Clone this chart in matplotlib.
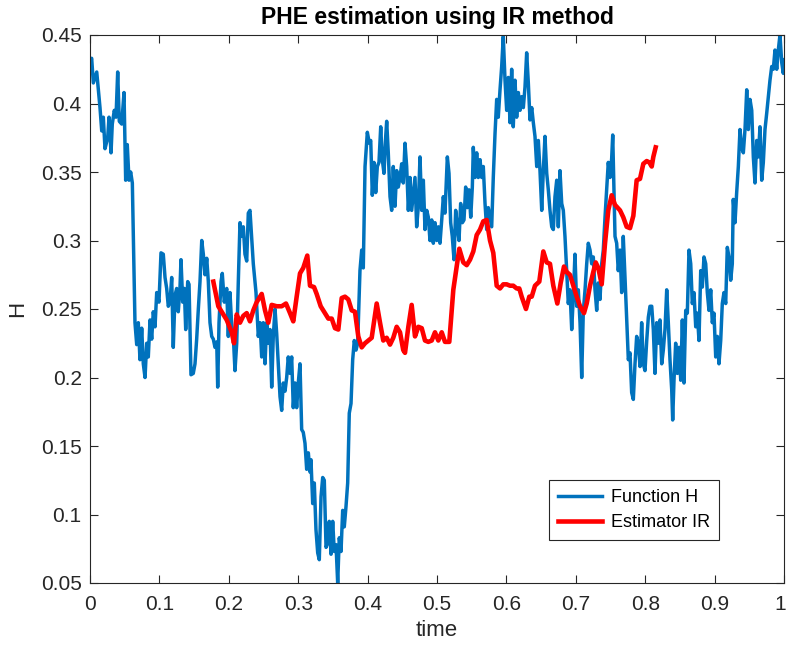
import matplotlib
matplotlib.use("Agg")
import matplotlib.pyplot as plt
import matplotlib.transforms as mtransforms

# Function H (blue)
time_h = [
    0.0, 0.0024, 0.0048, 0.0097, 0.0120, 0.0144, 0.0169, 0.0192, 0.0216, 0.0255,
    0.0274, 0.0303, 0.0321, 0.0350, 0.0375, 0.0399, 0.0422, 0.0457, 0.0490, 0.0514,
    0.0537, 0.0562, 0.0586, 0.0610, 0.0648, 0.0673, 0.0696, 0.0720, 0.0745, 0.0768,
    0.0793, 0.0817, 0.0840, 0.0865, 0.0889, 0.0912, 0.0937, 0.0961, 0.0994, 0.1023,
    0.1056, 0.1081, 0.1105, 0.1128, 0.1153, 0.1177, 0.1200, 0.1225, 0.1249, 0.1272,
    0.1297, 0.1311, 0.1336, 0.1359, 0.1379, 0.1408, 0.1427, 0.1455, 0.1488, 0.1513,
    0.1537, 0.1561, 0.1585, 0.1610, 0.1633, 0.1657, 0.1682, 0.1705, 0.1729, 0.1754,
    0.1777, 0.1801, 0.1826, 0.1840, 0.1859, 0.1888, 0.1906, 0.1935, 0.1970, 0.1993,
    0.2017, 0.2042, 0.2065, 0.2089, 0.2114, 0.2137, 0.2161, 0.2186, 0.2209, 0.2233,
    0.2258, 0.2281, 0.2305, 0.2353, 0.2392, 0.2425, 0.2450, 0.2474, 0.2497, 0.2522,
    0.2546, 0.2569, 0.2594, 0.2618, 0.2641, 0.2666, 0.2690, 0.2713, 0.2738, 0.2762,
    0.2785, 0.2810, 0.2834, 0.2857, 0.2882, 0.2906, 0.2929, 0.2954, 0.2978, 0.3001,
    0.3026, 0.3050, 0.3073, 0.3098, 0.3122, 0.3146, 0.3170, 0.3184, 0.3209, 0.3232,
    0.3256, 0.3281, 0.3304, 0.3329, 0.3353, 0.3376, 0.3401, 0.3425, 0.3448, 0.3473,
    0.3497, 0.3520, 0.3545, 0.3569, 0.3592, 0.3617, 0.3641, 0.3664, 0.3689, 0.3713,
    0.3736, 0.3761, 0.3785, 0.3808, 0.3833, 0.3857, 0.3890, 0.3915, 0.3938, 0.3963,
    0.3996, 0.4025, 0.4045, 0.4068, 0.4092, 0.4117, 0.4140, 0.4164, 0.4189, 0.4212,
    0.4236, 0.4261, 0.4275, 0.4298, 0.4323, 0.4347, 0.4370, 0.4395, 0.4419, 0.4442,
    0.4467, 0.4491, 0.4514, 0.4539, 0.4563, 0.4587, 0.4611, 0.4635, 0.4659, 0.4683,
    0.4707, 0.4731, 0.4755, 0.4780, 0.4803, 0.4827, 0.4852, 0.4875, 0.4899, 0.4924,
    0.4947, 0.4971, 0.4996, 0.5019, 0.5043, 0.5068, 0.5091, 0.5115, 0.5149, 0.5173,
    0.5197, 0.5220, 0.5245, 0.5269, 0.5293, 0.5317, 0.5341, 0.5365, 0.5389, 0.5413,
    0.5437, 0.5461, 0.5486, 0.5509, 0.5523, 0.5548, 0.5572, 0.5595, 0.5620, 0.5644,
    0.5667, 0.5692, 0.5716, 0.5739, 0.5764, 0.5788, 0.5811, 0.5836, 0.5860, 0.5883,
    0.5908, 0.5932, 0.5955, 0.5980, 0.6004, 0.6027, 0.6052, 0.6076, 0.6099, 0.6124,
    0.6148, 0.6172, 0.6196, 0.6220, 0.6244, 0.6268, 0.6292, 0.6316, 0.6340, 0.6365,
    0.6388, 0.6412, 0.6437, 0.6460, 0.6484, 0.6509, 0.6532, 0.6556, 0.6581, 0.6604,
    0.6628, 0.6653, 0.6676, 0.6700, 0.6725, 0.6748, 0.6772, 0.6797, 0.6820, 0.6844,
    0.6869, 0.6892, 0.6916, 0.6941, 0.6964, 0.6988, 0.7013, 0.7036, 0.7061, 0.7085,
    0.7108, 0.7133, 0.7157, 0.7180, 0.7205, 0.7229, 0.7252, 0.7277, 0.7301, 0.7324,
    0.7349, 0.7373, 0.7396, 0.7421, 0.7445, 0.7468, 0.7493, 0.7517, 0.7532, 0.7550,
    0.7565, 0.7589, 0.7612, 0.7637, 0.7661, 0.7684, 0.7709, 0.7733, 0.7757, 0.7781,
    0.7805, 0.7829, 0.7853, 0.7877, 0.7901, 0.7925, 0.7949, 0.7973, 0.7997, 0.8022,
    0.8045, 0.8069, 0.8094, 0.8117, 0.8141, 0.8166, 0.8189, 0.8213, 0.8238, 0.8261,
    0.8285, 0.8310, 0.8333, 0.8357, 0.8382, 0.8396, 0.8415, 0.8439, 0.8463, 0.8487,
    0.8512, 0.8535, 0.8559, 0.8584, 0.8607, 0.8631, 0.8656, 0.8679, 0.8703, 0.8728,
    0.8751, 0.8775, 0.8800, 0.8823, 0.8847, 0.8872, 0.8895, 0.8919, 0.8944, 0.8967,
    0.8991, 0.9016, 0.9039, 0.9063, 0.9088, 0.9111, 0.9135, 0.9160, 0.9183, 0.9207,
    0.9232, 0.9255, 0.9269, 0.9294, 0.9318, 0.9342, 0.9366, 0.9390, 0.9414, 0.9438,
    0.9463, 0.9486, 0.9510, 0.9535, 0.9558, 0.9582, 0.9607, 0.9630, 0.9654, 0.9679,
    0.9702, 0.9726, 0.9751, 0.9774, 0.9798, 0.9823, 0.9846, 0.9870, 0.9895, 0.9918,
    0.9942, 0.9967, 0.9990, 1.0,
]
func_h = [
    0.430, 0.433, 0.415, 0.423, 0.410, 0.397, 0.380, 0.390, 0.367, 0.375,
    0.390, 0.364, 0.385, 0.395, 0.390, 0.423, 0.387, 0.385, 0.408, 0.344,
    0.370, 0.344, 0.350, 0.342, 0.240, 0.224, 0.240, 0.213, 0.236, 0.210,
    0.200, 0.225, 0.215, 0.242, 0.228, 0.248, 0.237, 0.262, 0.255, 0.291,
    0.290, 0.273, 0.265, 0.252, 0.255, 0.273, 0.222, 0.260, 0.265, 0.248,
    0.266, 0.286, 0.255, 0.265, 0.235, 0.270, 0.268, 0.202, 0.203, 0.210,
    0.228, 0.250, 0.270, 0.300, 0.290, 0.275, 0.287, 0.270, 0.240, 0.230,
    0.228, 0.222, 0.226, 0.193, 0.240, 0.270, 0.276, 0.255, 0.265, 0.230,
    0.262, 0.238, 0.230, 0.205, 0.225, 0.270, 0.313, 0.303, 0.310, 0.290,
    0.285, 0.320, 0.322, 0.283, 0.262, 0.230, 0.240, 0.215, 0.240, 0.210,
    0.240, 0.225, 0.235, 0.193, 0.230, 0.250, 0.232, 0.210, 0.186, 0.176,
    0.196, 0.190, 0.200, 0.215, 0.203, 0.215, 0.178, 0.196, 0.178, 0.196,
    0.210, 0.162, 0.160, 0.152, 0.133, 0.145, 0.131, 0.140, 0.108, 0.123,
    0.089, 0.072, 0.067, 0.113, 0.127, 0.125, 0.076, 0.079, 0.095, 0.071,
    0.095, 0.073, 0.078, 0.050, 0.083, 0.073, 0.103, 0.091, 0.106, 0.123,
    0.174, 0.181, 0.213, 0.227, 0.220, 0.225, 0.278, 0.293, 0.280, 0.354,
    0.379, 0.371, 0.373, 0.333, 0.357, 0.335, 0.354, 0.357, 0.383, 0.359,
    0.349, 0.376, 0.387, 0.364, 0.332, 0.322, 0.354, 0.325, 0.351, 0.339,
    0.346, 0.356, 0.342, 0.371, 0.354, 0.322, 0.346, 0.322, 0.334, 0.346,
    0.310, 0.325, 0.361, 0.322, 0.344, 0.308, 0.322, 0.317, 0.300, 0.315,
    0.298, 0.313, 0.300, 0.310, 0.298, 0.315, 0.332, 0.320, 0.361, 0.349,
    0.313, 0.303, 0.286, 0.322, 0.310, 0.300, 0.327, 0.313, 0.315, 0.339,
    0.324, 0.337, 0.317, 0.339, 0.368, 0.346, 0.364, 0.346, 0.359, 0.346,
    0.354, 0.327, 0.308, 0.324, 0.317, 0.310, 0.346, 0.378, 0.403, 0.390,
    0.410, 0.427, 0.449, 0.417, 0.395, 0.419, 0.386, 0.425, 0.383, 0.417,
    0.390, 0.408, 0.395, 0.405, 0.397, 0.412, 0.437, 0.415, 0.388, 0.397,
    0.386, 0.376, 0.354, 0.373, 0.351, 0.322, 0.351, 0.376, 0.349, 0.337,
    0.322, 0.310, 0.308, 0.332, 0.344, 0.310, 0.351, 0.327, 0.322, 0.303,
    0.278, 0.254, 0.264, 0.235, 0.259, 0.290, 0.252, 0.264, 0.240, 0.200,
    0.248, 0.264, 0.283, 0.298, 0.293, 0.283, 0.288, 0.264, 0.249, 0.269,
    0.257, 0.283, 0.293, 0.317, 0.337, 0.357, 0.346, 0.360, 0.377, 0.335,
    0.303, 0.298, 0.278, 0.293, 0.262, 0.303, 0.273, 0.242, 0.213, 0.218,
    0.189, 0.184, 0.210, 0.230, 0.225, 0.208, 0.240, 0.210, 0.205, 0.227,
    0.244, 0.252, 0.252, 0.235, 0.203, 0.240, 0.225, 0.242, 0.210, 0.220,
    0.235, 0.264, 0.240, 0.213, 0.191, 0.169, 0.198, 0.225, 0.203, 0.222,
    0.198, 0.242, 0.196, 0.249, 0.247, 0.293, 0.283, 0.254, 0.262, 0.237,
    0.247, 0.227, 0.278, 0.266, 0.288, 0.283, 0.262, 0.249, 0.264, 0.240,
    0.247, 0.215, 0.230, 0.210, 0.227, 0.254, 0.262, 0.254, 0.295, 0.288,
    0.271, 0.283, 0.330, 0.313, 0.335, 0.354, 0.381, 0.368, 0.364, 0.381,
    0.410, 0.381, 0.403, 0.395, 0.361, 0.342, 0.373, 0.361, 0.383, 0.344,
    0.357, 0.381, 0.393, 0.405, 0.417, 0.427, 0.425, 0.439, 0.425, 0.439,
    0.450, 0.430, 0.422, 0.432,
]

# Estimator IR (red)
time_ir = [
    0.1777, 0.1849, 0.1897, 0.1970, 0.2042, 0.2075, 0.2114, 0.2161, 0.2209, 0.2258,
    0.2305, 0.2353, 0.2402, 0.2474, 0.2522, 0.2569, 0.2618, 0.2690, 0.2762, 0.2824,
    0.2882, 0.2929, 0.2978, 0.3026, 0.3073, 0.3131, 0.3170, 0.3228, 0.3266, 0.3324,
    0.3386, 0.3434, 0.3483, 0.3530, 0.3578, 0.3627, 0.3674, 0.3722, 0.3771, 0.3818,
    0.3866, 0.3915, 0.3963, 0.4010, 0.4059, 0.4131, 0.4179, 0.4226, 0.4275, 0.4323,
    0.4370, 0.4419, 0.4467, 0.4514, 0.4539, 0.4587, 0.4635, 0.4683, 0.4731, 0.4780,
    0.4827, 0.4875, 0.4924, 0.4971, 0.5019, 0.5068, 0.5115, 0.5177, 0.5235, 0.5321,
    0.5379, 0.5428, 0.5476, 0.5523, 0.5572, 0.5620, 0.5667, 0.5716, 0.5764, 0.5811,
    0.5860, 0.5908, 0.5955, 0.6004, 0.6052, 0.6099, 0.6148, 0.6186, 0.6220, 0.6282,
    0.6330, 0.6365, 0.6412, 0.6474, 0.6532, 0.6581, 0.6628, 0.6676, 0.6734, 0.6782,
    0.6830, 0.6869, 0.6916, 0.6964, 0.7013, 0.7061, 0.7118, 0.7157, 0.7205, 0.7252,
    0.7287, 0.7324, 0.7373, 0.7421, 0.7468, 0.7517, 0.7565, 0.7637, 0.7684, 0.7733,
    0.7781, 0.7829, 0.7877, 0.7925, 0.7973, 0.8022, 0.8059, 0.8094, 0.8117, 0.8151,
]
est_ir = [
    0.270, 0.252, 0.248, 0.242, 0.233, 0.225, 0.246, 0.240, 0.245, 0.247,
    0.241, 0.249, 0.255, 0.261, 0.249, 0.240, 0.253, 0.252, 0.252, 0.254,
    0.247, 0.241, 0.259, 0.276, 0.280, 0.289, 0.267, 0.266, 0.261, 0.252,
    0.247, 0.243, 0.243, 0.236, 0.235, 0.258, 0.259, 0.257, 0.249, 0.248,
    0.230, 0.222, 0.225, 0.227, 0.229, 0.254, 0.240, 0.227, 0.229, 0.224,
    0.229, 0.237, 0.233, 0.220, 0.218, 0.237, 0.253, 0.230, 0.237, 0.236,
    0.227, 0.226, 0.227, 0.233, 0.227, 0.233, 0.226, 0.226, 0.264, 0.294,
    0.284, 0.282, 0.286, 0.292, 0.304, 0.308, 0.314, 0.315, 0.300, 0.291,
    0.267, 0.265, 0.268, 0.268, 0.267, 0.267, 0.265, 0.265, 0.259, 0.250,
    0.259, 0.259, 0.267, 0.270, 0.292, 0.284, 0.283, 0.267, 0.254, 0.269,
    0.281, 0.277, 0.275, 0.267, 0.259, 0.252, 0.247, 0.254, 0.267, 0.277,
    0.284, 0.280, 0.268, 0.298, 0.322, 0.333, 0.326, 0.322, 0.317, 0.310,
    0.309, 0.318, 0.344, 0.345, 0.356, 0.358, 0.357, 0.354, 0.361, 0.368,
]

x_ticks = [0, 0.1, 0.2, 0.3, 0.4, 0.5, 0.6, 0.7, 0.8, 0.9, 1]
x_labels = ["0", "0.1", "0.2", "0.3", "0.4", "0.5", "0.6", "0.7", "0.8", "0.9", "1"]
y_ticks = [0.05, 0.1, 0.15, 0.2, 0.25, 0.3, 0.35, 0.4, 0.45]
y_labels = ["0.05", "0.1", "0.15", "0.2", "0.25", "0.3", "0.35", "0.4", "0.45"]

plt.rcParams['font.family'] = ['Liberation Sans', 'DejaVu Sans']
axis_color = '#262626'

fig = plt.figure(figsize=(7.88, 6.5), dpi=100)
ax = fig.add_axes([90 / 788, 1 - 583 / 650, 694 / 788, 548 / 650])

ax.plot(time_h, func_h, color='#0072BD', linewidth=2.5, label='Function H')
ax.plot(time_ir, est_ir, color='#FF0000', linewidth=3.3, label='Estimator IR')

ax.set_xlim(0, 1)
ax.set_ylim(0.05, 0.45)
ax.set_xticks(x_ticks)
ax.set_xticklabels(x_labels)
ax.set_yticks(y_ticks)
ax.set_yticklabels(y_labels)
ax.tick_params(direction='in', length=6, width=0.8, colors=axis_color,
               labelsize=15, top=True, right=True)
ax.tick_params(axis='x', pad=9)
ax.tick_params(axis='y', pad=6)
for spine in ax.spines.values():
    spine.set_color(axis_color)
    spine.set_linewidth(0.8)

# keep the last x label ("1") inside the canvas
last = ax.get_xticklabels()[-1]
last.set_transform(last.get_transform() +
                   mtransforms.ScaledTranslation(-4 / 100, 0, fig.dpi_scale_trans))

ax.set_title('PHE estimation using IR method', fontsize=16.5, fontweight='bold',
             color='black', pad=8)
ax.set_xlabel('time', fontsize=16, color=axis_color, labelpad=4)
ax.set_ylabel('H', fontsize=16, color=axis_color, labelpad=9)

leg = ax.legend(loc='lower right', bbox_to_anchor=(0.906, 0.0785), fontsize=13,
                fancybox=False, framealpha=1, edgecolor=axis_color,
                handlelength=2.4, borderpad=0.5, labelspacing=0.45,
                handletextpad=0.5, borderaxespad=0)
leg.get_frame().set_linewidth(0.8)

fig.savefig('out.png', dpi=100)
